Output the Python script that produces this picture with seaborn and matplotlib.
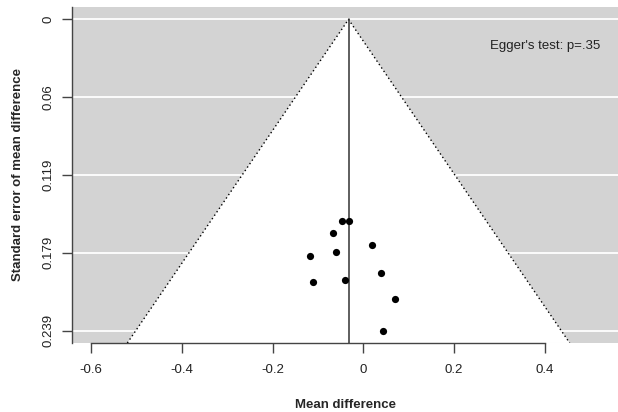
import numpy as np
import pandas as pd
import matplotlib
matplotlib.use('Agg')
import matplotlib.pyplot as plt
import seaborn as sns

# Study-level data
mean_diff = [-0.047, -0.031, -0.067, 0.020, -0.118, -0.060, 0.040, -0.111, -0.040, 0.070, 0.044]
std_err = [0.155, 0.155, 0.164, 0.173, 0.182, 0.179, 0.195, 0.202, 0.200, 0.2145, 0.239]
pooled_estimate = -0.0326
y_tick_labels = ["0", "0.06", "0.119", "0.179", "0.239"]
x_ticks = [-0.6, -0.4, -0.2, 0, 0.2, 0.4]
x_tick_labels = ["-0.6", "-0.4", "-0.2", "0", "0.2", "0.4"]
egger_label = "Egger's test: p=.35"
x_label = "Mean difference"
y_label = "Standard error of mean difference"

df = pd.DataFrame({"mean_diff": mean_diff, "std_err": std_err})

sns.set_theme(style="white")
plt.rcParams['font.family'] = ['Liberation Sans', 'DejaVu Sans']

fig = plt.figure(figsize=(6.18, 4.12), dpi=100)
ax = fig.add_axes([0.117, 0.1675, 0.883, 0.8155])

se_max = max(std_err)
y_top = -0.04 * se_max
y_bot = se_max * 1.04
z = 1.96

ax.set_facecolor('#D3D3D3')
y_ticks = np.linspace(0, se_max, 5)
for yv in y_ticks:
    ax.axhline(yv, color='white', lw=1.3, zorder=1)

fx = [pooled_estimate - z * y_bot, pooled_estimate, pooled_estimate + z * y_bot]
fy = [y_bot, 0, y_bot]
ax.fill(fx, fy, color='white', zorder=2, lw=0)
ax.plot(fx, fy, ls=(0, (1, 2)), color='black', lw=1.0, zorder=3)
ax.plot([pooled_estimate, pooled_estimate], [0, y_bot], color='#333333', lw=1.1, zorder=3)

sns.scatterplot(data=df, x="mean_diff", y="std_err", color='black', s=27,
                linewidth=0, zorder=4, ax=ax, legend=False)

ax.set_xlim(-0.641, 0.561)
ax.set_ylim(y_bot, y_top)

ax.set_xticks(x_ticks)
ax.set_xticklabels(x_tick_labels, fontsize=9.5, color='#222222')
ax.set_yticks(y_ticks)
ax.set_yticklabels(y_tick_labels, fontsize=9.5, color='#222222', rotation=90, va='center')
ax.tick_params(axis='both', which='major', bottom=True, left=True, direction='out',
               length=7, width=1, color='#444444')
ax.tick_params(axis='x', pad=8)
ax.tick_params(axis='y', pad=6)

for s in ['top', 'right']:
    ax.spines[s].set_visible(False)
ax.spines['left'].set_color('#444444')
ax.spines['bottom'].set_color('#444444')
ax.spines['left'].set_linewidth(1)
ax.spines['bottom'].set_linewidth(1)
ax.spines['bottom'].set_bounds(-0.6, 0.4)

ax.set_xlabel(x_label, fontsize=9.5, fontweight='bold', labelpad=17)
ax.set_ylabel(y_label, fontsize=9.5, fontweight='bold', labelpad=13)

ax.text(0.967, 0.885, egger_label, transform=ax.transAxes, ha='right', va='center',
        fontsize=9.5, color='#222222', zorder=5)

fig.savefig("out.png", dpi=100)
